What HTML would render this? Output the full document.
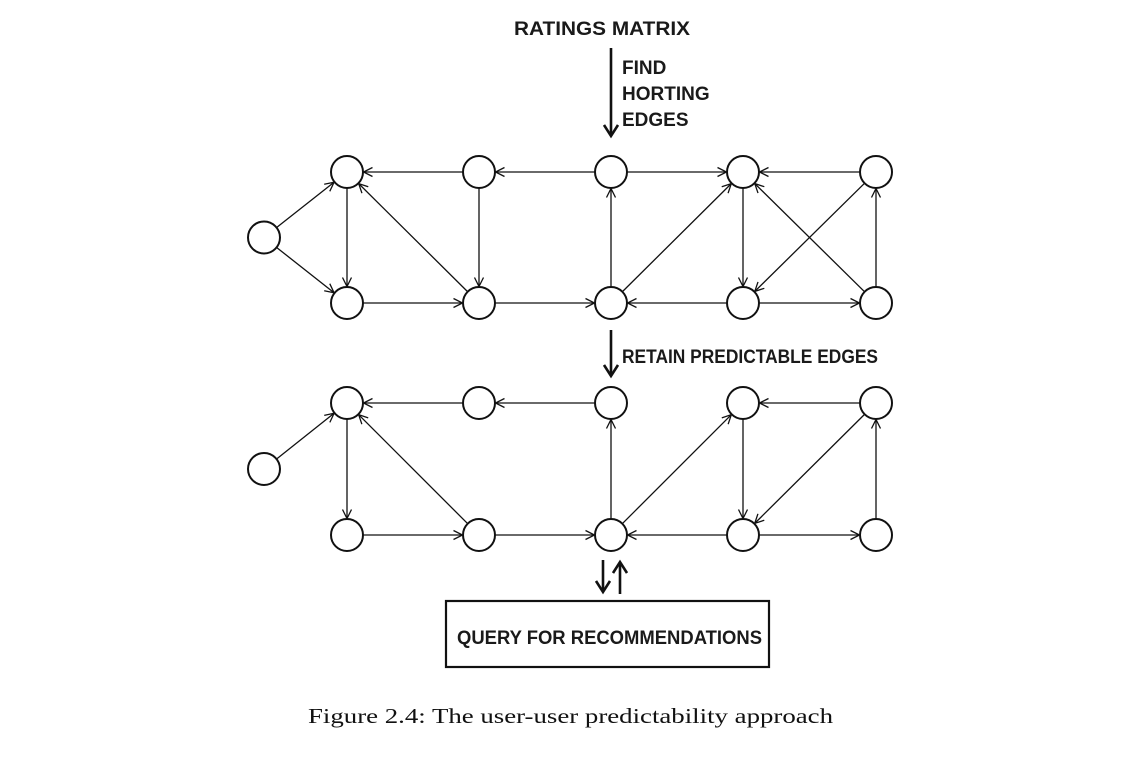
<!DOCTYPE html>
<html><head><meta charset="utf-8"><style>
html,body{margin:0;padding:0;background:#fff;}
svg{display:block}
.b{font-family:"Liberation Sans",sans-serif;font-weight:bold;font-size:19px;fill:#1a1a1a}
</style></head><body>
<svg id="s" width="1146" height="760" viewBox="0 0 1146 760" xmlns="http://www.w3.org/2000/svg">
<defs>
<marker id="a" markerWidth="12" markerHeight="12" refX="10" refY="6" orient="auto" markerUnits="userSpaceOnUse">
<path d="M1,1.5 L10,6 L1,10.5" fill="none" stroke="#111" stroke-width="1.3"/></marker>
<marker id="t" markerWidth="16" markerHeight="16" refX="12" refY="8" orient="auto" markerUnits="userSpaceOnUse">
<path d="M1,1 L12,8 L1,15" fill="none" stroke="#111" stroke-width="2.6"/></marker>
</defs>
<text class="b" x="514" y="35" textLength="176" lengthAdjust="spacingAndGlyphs">RATINGS MATRIX</text>
<line x1="611" y1="48" x2="611" y2="136" stroke="#111" stroke-width="2.6" marker-end="url(#t)"/>
<text class="b" x="622" y="74" font-size="17">FIND</text>
<text class="b" x="622" y="100" font-size="17">HORTING</text>
<text class="b" x="622" y="126" font-size="17">EDGES</text>
<line x1="611" y1="330" x2="611" y2="376" stroke="#111" stroke-width="2.6" marker-end="url(#t)"/>
<text class="b" x="622" y="363" font-size="17" textLength="256" lengthAdjust="spacingAndGlyphs">RETAIN PREDICTABLE EDGES</text>
<line x1="603" y1="560" x2="603" y2="592" stroke="#111" stroke-width="2.6" marker-end="url(#t)"/>
<line x1="620" y1="594" x2="620" y2="562" stroke="#111" stroke-width="2.6" marker-end="url(#t)"/>
<rect x="446" y="601" width="323" height="66" fill="none" stroke="#111" stroke-width="2.2"/>
<text class="b" x="457" y="644" font-size="17" textLength="305" lengthAdjust="spacingAndGlyphs">QUERY FOR RECOMMENDATIONS</text>
<text x="308" y="723" font-family="Liberation Serif,serif" font-size="21" fill="#111" textLength="525" lengthAdjust="spacingAndGlyphs">Figure 2.4: The user-user predictability approach</text>
<g id="g"></g>
</svg>
<script>
var X=[347,479,611,743,876],g=document.getElementById('g'),ns='http://www.w3.org/2000/svg',R=16.5;
function build(y1,y2,edges){
 var P={L:[264,(y1+y2)/2]};
 for(var i=0;i<5;i++){P['t'+i]=[X[i],y1];P['b'+i]=[X[i],y2];}
 edges.forEach(function(e){var a=P[e[0]],b=P[e[1]];var dx=b[0]-a[0],dy=b[1]-a[1],d=Math.hypot(dx,dy);
  var l=document.createElementNS(ns,'line');
  l.setAttribute('x1',a[0]+dx/d*R);l.setAttribute('y1',a[1]+dy/d*R);
  l.setAttribute('x2',b[0]-dx/d*R);l.setAttribute('y2',b[1]-dy/d*R);
  l.setAttribute('stroke','#111');l.setAttribute('stroke-width','1.3');l.setAttribute('marker-end','url(#a)');g.appendChild(l);});
 for(var k in P){var c=document.createElementNS(ns,'circle');c.setAttribute('cx',P[k][0]);c.setAttribute('cy',P[k][1]);c.setAttribute('r',16);c.setAttribute('fill','#fff');c.setAttribute('stroke','#111');c.setAttribute('stroke-width','2');g.appendChild(c);}
}
build(172,303,[['L','t0'],['L','b0'],['t1','t0'],['t2','t1'],['t2','t3'],['t4','t3'],['t0','b0'],['t1','b1'],['b1','t0'],['b0','b1'],['b1','b2'],['b2','t2'],['b2','t3'],['b3','b2'],['t3','b3'],['t4','b3'],['b4','t3'],['b3','b4'],['b4','t4']]);
build(403,535,[['L','t0'],['t1','t0'],['t2','t1'],['t4','t3'],['t0','b0'],['b1','t0'],['b0','b1'],['b1','b2'],['b2','t2'],['b2','t3'],['b3','b2'],['t3','b3'],['t4','b3'],['b3','b4'],['b4','t4']]);
</script>
</body></html>
